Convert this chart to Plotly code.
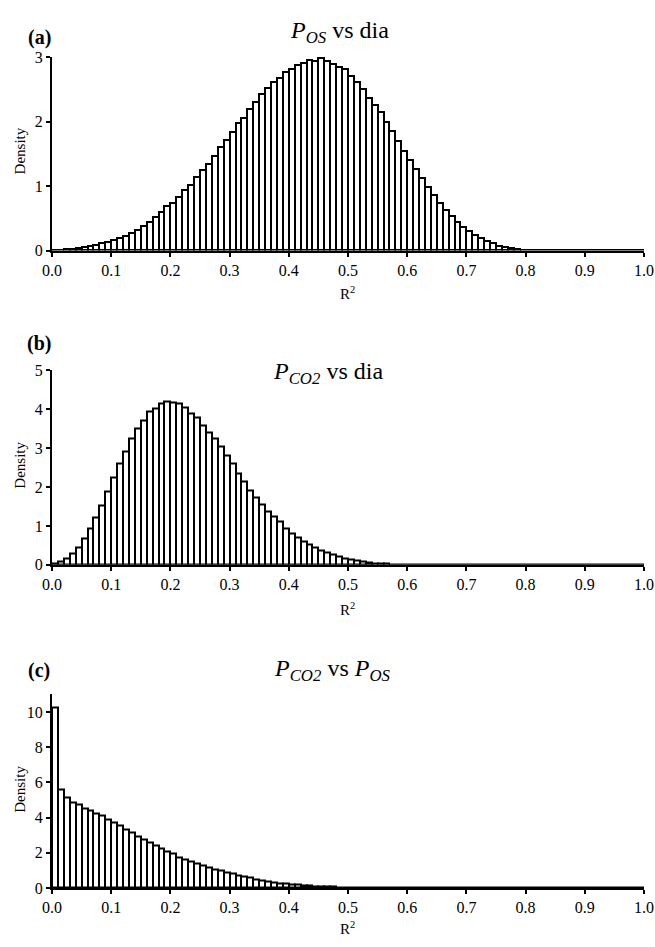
import plotly.graph_objects as go

bin_width = 0.01
bin_centers = [round(0.005 + i * bin_width, 3) for i in range(100)]

dens_a = [0.01, 0.01, 0.02, 0.03, 0.04, 0.055, 0.07, 0.09, 0.11, 0.13,
          0.16, 0.19, 0.23, 0.27, 0.32, 0.385, 0.44, 0.52, 0.59, 0.69,
          0.73, 0.83, 0.93, 1.02, 1.14, 1.25, 1.34, 1.46, 1.6, 1.71,
          1.84, 1.98, 2.06, 2.2, 2.3, 2.42, 2.52, 2.61, 2.68, 2.76,
          2.81, 2.87, 2.9, 2.96, 2.94, 2.98, 2.94, 2.89, 2.85, 2.81,
          2.71, 2.62, 2.5, 2.37, 2.26, 2.14, 1.99, 1.85, 1.7, 1.55,
          1.41, 1.26, 1.12, 0.98, 0.86, 0.73, 0.63, 0.54, 0.44, 0.365,
          0.3, 0.24, 0.19, 0.14, 0.11, 0.075, 0.055, 0.035, 0.025, 0.015,
          0.01, 0.006, 0.004, 0.002, 0.001, 0.001, 0, 0, 0, 0,
          0, 0, 0, 0, 0, 0, 0, 0, 0, 0]

dens_b = [0.035, 0.085, 0.16, 0.29, 0.455, 0.675, 0.94, 1.23, 1.54, 1.9,
          2.25, 2.6, 2.93, 3.24, 3.51, 3.71, 3.94, 4.03, 4.16, 4.21,
          4.19, 4.14, 4.05, 3.9, 3.78, 3.59, 3.41, 3.25, 3.04, 2.81,
          2.6, 2.36, 2.14, 1.91, 1.74, 1.55, 1.37, 1.24, 1.11, 0.95,
          0.8, 0.7, 0.61, 0.52, 0.455, 0.37, 0.31, 0.26, 0.21, 0.17,
          0.135, 0.105, 0.08, 0.06, 0.045, 0.035, 0.026, 0.019, 0.014, 0.01,
          0.007, 0.005, 0.003, 0.002, 0.001, 0, 0, 0, 0, 0,
          0, 0, 0, 0, 0, 0, 0, 0, 0, 0,
          0, 0, 0, 0, 0, 0, 0, 0, 0, 0,
          0, 0, 0, 0, 0, 0, 0, 0, 0, 0]

dens_c = [10.28, 5.61, 5.13, 4.87, 4.74, 4.54, 4.39, 4.26, 4.13, 3.9,
          3.72, 3.53, 3.35, 3.16, 2.94, 2.77, 2.6, 2.43, 2.27, 2.1,
          1.95, 1.75, 1.64, 1.5, 1.38, 1.25, 1.15, 1.06, 0.97, 0.87,
          0.8, 0.72, 0.63, 0.58, 0.5, 0.43, 0.37, 0.32, 0.28, 0.24,
          0.2, 0.17, 0.14, 0.12, 0.1, 0.085, 0.07, 0.058, 0.048, 0.04,
          0.032, 0.026, 0.02, 0.016, 0.012, 0.009, 0.007, 0.005, 0.003, 0.002,
          0.001, 0, 0, 0, 0, 0, 0, 0, 0, 0,
          0, 0, 0, 0, 0, 0, 0, 0, 0, 0,
          0, 0, 0, 0, 0, 0, 0, 0, 0, 0,
          0, 0, 0, 0, 0, 0, 0, 0, 0, 0]

panel_labels = ["(a)", "(b)", "(c)"]
panel_titles = ["<i>P<sub>OS</sub></i> vs dia",
                "<i>P<sub>CO2</sub></i> vs dia",
                "<i>P<sub>CO2</sub></i> vs <i>P<sub>OS</sub></i>"]
y_ranges = [[0, 3], [0, 5], [0, 11]]
y_dticks = [1, 1, 2]
x_ticks = [round(0.1 * i, 1) for i in range(11)]

W, H = 655, 947
L, R = 52, 644

def py(px):
    return 1 - px / H

def px_x(px):
    return (px - L) / (R - L)

# plot areas in pixels (top, bottom)
areas = [(50, 247), (369, 567), (699, 896)]

FONT = "Liberation Serif, Times New Roman, serif"
fig = go.Figure()
series = [dens_a, dens_b, dens_c]
for k in range(3):
    sfx = "" if k == 0 else str(k + 1)
    fig.add_trace(go.Bar(
        x=bin_centers, y=series[k], width=bin_width,
        marker=dict(color="white", line=dict(color="black", width=2)),
        xaxis="x" + sfx, yaxis="y" + sfx, showlegend=False))
    top, bot = areas[k]
    fig.layout["xaxis" + sfx] = dict(
        domain=[0, 1], range=[0, 1.0], anchor="y" + sfx,
        tickmode="array", tickvals=x_ticks,
        ticktext=[f"{v:.1f}" for v in x_ticks],
        ticks="outside", ticklen=4, tickwidth=1.5, tickcolor="black",
        showline=True, linecolor="black", linewidth=2,
        showgrid=False, zeroline=False,
        tickfont=dict(family=FONT, size=16, color="black"))
    fig.layout["yaxis" + sfx] = dict(
        domain=[py(bot), py(top)], range=y_ranges[k], anchor="x" + sfx,
        dtick=y_dticks[k], tick0=0,
        ticks="outside", ticklen=4, tickwidth=1.5, tickcolor="black",
        showline=True, linecolor="black", linewidth=2,
        showgrid=False, zeroline=False,
        tickfont=dict(family=FONT, size=16, color="black"))

annotations = []
label_y = [30, 342, 675]
title_y = [24, 372, 674]
title_x = [339, 328, 332]
density_y = [146, 466, 796]
r2_y = [290, 612, 937]
for k in range(3):
    annotations.append(dict(text="<b>" + panel_labels[k] + "</b>", x=px_x(39), y=py(label_y[k]),
                            xref="paper", yref="paper", showarrow=False,
                            font=dict(family=FONT, size=20, color="black"),
                            xanchor="center", yanchor="middle"))
    annotations.append(dict(text=panel_titles[k], x=px_x(title_x[k]), y=py(title_y[k]),
                            xref="paper", yref="paper", showarrow=False,
                            font=dict(family=FONT, size=24, color="black"),
                            xanchor="center", yanchor="middle"))
    annotations.append(dict(text="Density", x=px_x(20), y=py(density_y[k]),
                            xref="paper", yref="paper", showarrow=False, textangle=-90,
                            font=dict(family=FONT, size=15, color="black"),
                            xanchor="center", yanchor="middle"))
    annotations.append(dict(text="R<sup>2</sup>", x=px_x(347), y=py(r2_y[k]),
                            xref="paper", yref="paper", showarrow=False,
                            font=dict(family=FONT, size=15, color="black"),
                            xanchor="center", yanchor="middle"))

fig.update_layout(
    width=W, height=H,
    margin=dict(l=L, r=W - R, t=0, b=0),
    paper_bgcolor="white", plot_bgcolor="white",
    bargap=0, annotations=annotations,
    font=dict(family=FONT, color="black"))

fig.write_html("out.html")
